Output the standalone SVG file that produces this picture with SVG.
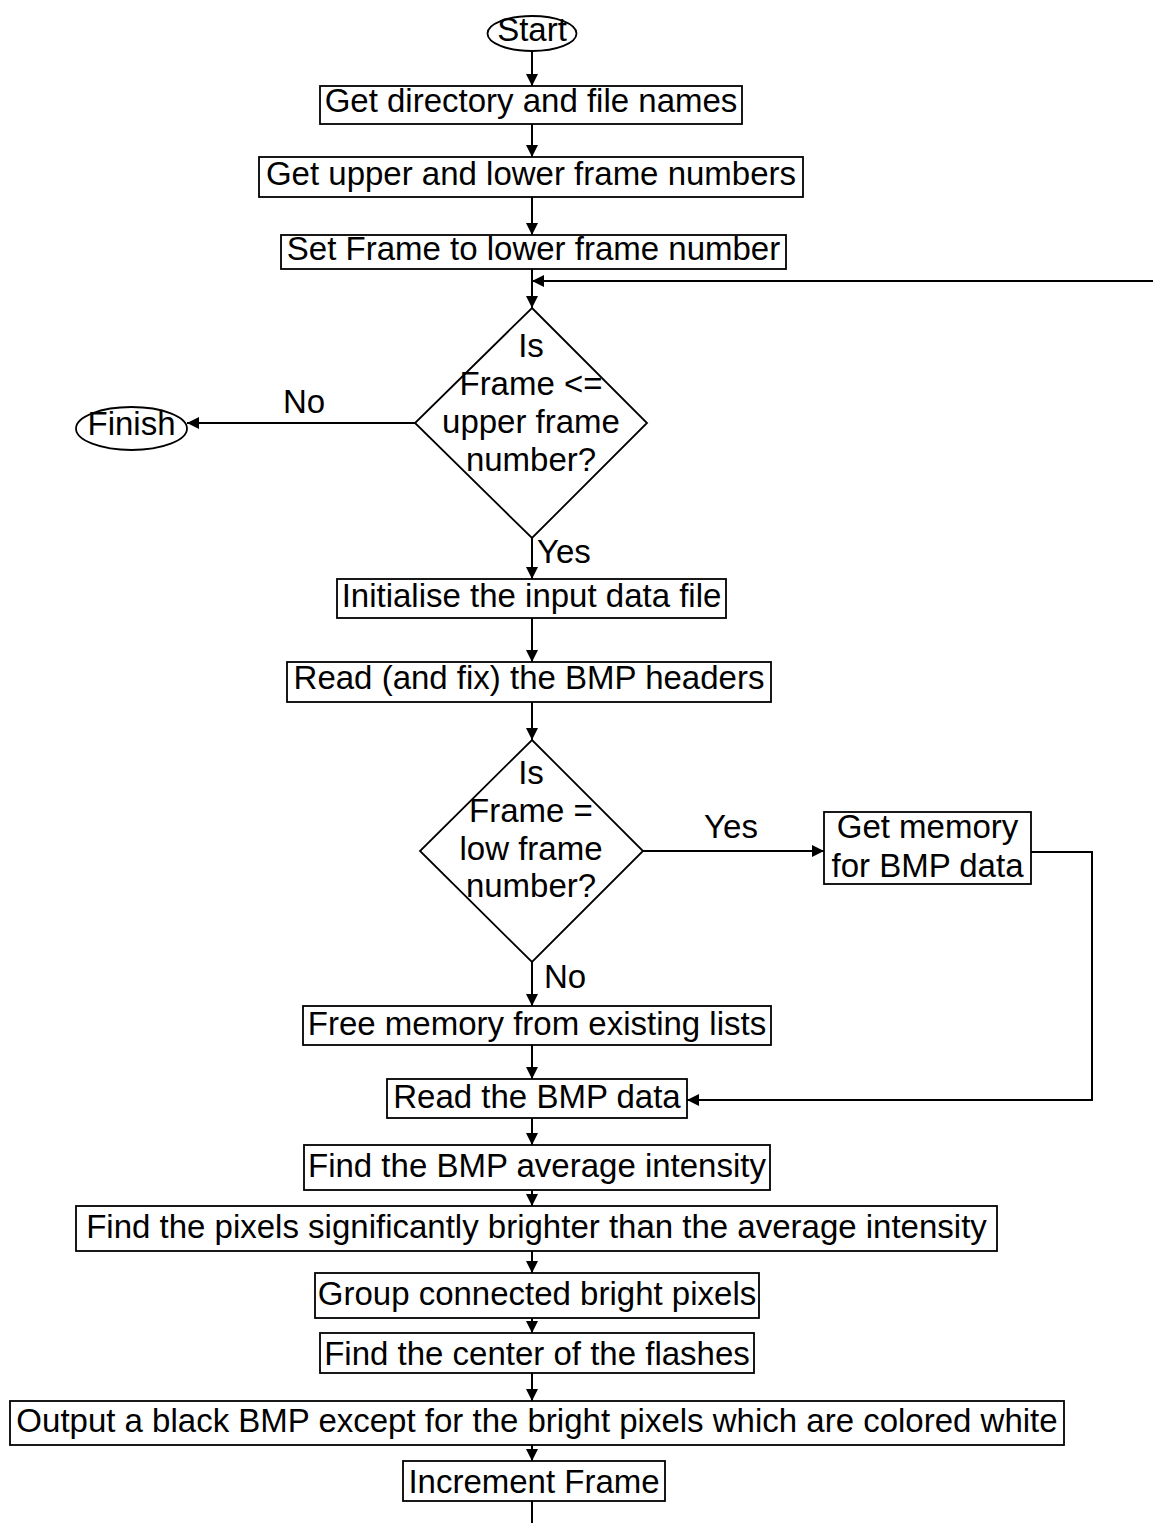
<svg xmlns="http://www.w3.org/2000/svg" width="1153" height="1523" viewBox="0 0 1153 1523">
  <style>
    .shape { fill: #ffffff; stroke: #000000; stroke-width: 1.8; }
    .label { font-family: "Liberation Sans", Arial, sans-serif; font-size: 33px; fill: #000000; text-anchor: middle; }
    .start { text-anchor: start; }
    .wire { fill: none; stroke: #000000; stroke-width: 2; }
  </style>
  <defs>
    <marker id="arrow" markerUnits="userSpaceOnUse" markerWidth="12" markerHeight="12" viewBox="0 0 12 12" refX="12" refY="6" orient="auto">
      <path d="M0,0 L12,6 L0,12 Z" fill="#000000"/>
    </marker>
  </defs>
  <rect width="1153" height="1523" fill="#ffffff"/>

  <!-- connectors -->
  <g id="connectors">
    <path class="wire" d="M532,51 V86" marker-end="url(#arrow)"/>
    <path class="wire" d="M532,124 V157" marker-end="url(#arrow)"/>
    <path class="wire" d="M532,197 V235" marker-end="url(#arrow)"/>
    <path class="wire" d="M532,269 V308" marker-end="url(#arrow)"/>
    <path class="wire" d="M1153,281 H532" marker-end="url(#arrow)"/>
    <path class="wire" d="M415,423 H187" marker-end="url(#arrow)"/>
    <path class="wire" d="M532,538 V579" marker-end="url(#arrow)"/>
    <path class="wire" d="M532,618 V662" marker-end="url(#arrow)"/>
    <path class="wire" d="M532,702 V740" marker-end="url(#arrow)"/>
    <path class="wire" d="M643,851 H824" marker-end="url(#arrow)"/>
    <path class="wire" d="M1031,852 H1092 V1100 H687" marker-end="url(#arrow)"/>
    <path class="wire" d="M532,962 V1006" marker-end="url(#arrow)"/>
    <path class="wire" d="M532,1045 V1079" marker-end="url(#arrow)"/>
    <path class="wire" d="M532,1118 V1145" marker-end="url(#arrow)"/>
    <path class="wire" d="M532,1190 V1206" marker-end="url(#arrow)"/>
    <path class="wire" d="M532,1251 V1273" marker-end="url(#arrow)"/>
    <path class="wire" d="M532,1318 V1333" marker-end="url(#arrow)"/>
    <path class="wire" d="M532,1373 V1401" marker-end="url(#arrow)"/>
    <path class="wire" d="M532,1445 V1461" marker-end="url(#arrow)"/>
    <path class="wire" d="M532,1501 V1523"/>
    <text class="label" x="304" y="413">No</text>
    <text class="label start" x="537" y="563">Yes</text>
    <text class="label" x="731" y="838">Yes</text>
    <text class="label start" x="544" y="988">No</text>
  </g>

  <g id="start">
    <ellipse class="shape" cx="532" cy="33.5" rx="44.5" ry="17.5"/>
    <text class="label" x="532" y="41">Start</text>
  </g>

  <g id="get-names">
    <rect class="shape" x="320" y="86" width="422" height="38"/>
    <text class="label" x="531" y="112">Get directory and file names</text>
  </g>

  <g id="get-frame-range">
    <rect class="shape" x="259" y="157" width="544" height="40"/>
    <text class="label" x="531" y="185">Get upper and lower frame numbers</text>
  </g>

  <g id="set-frame">
    <rect class="shape" x="281" y="235" width="505" height="34"/>
    <text class="label" x="533.5" y="260">Set Frame to lower frame number</text>
  </g>

  <g id="check-upper">
    <polygon class="shape" points="532,308 647,423 532,538 415,423"/>
    <text class="label" x="531" y="357">Is</text>
    <text class="label" x="531" y="395">Frame &lt;=</text>
    <text class="label" x="531" y="433">upper frame</text>
    <text class="label" x="531" y="471">number?</text>
  </g>

  <g id="finish">
    <ellipse class="shape" cx="131.5" cy="428.5" rx="55.5" ry="21.5"/>
    <text class="label" x="131.5" y="435">Finish</text>
  </g>

  <g id="init-input">
    <rect class="shape" x="337" y="579" width="389" height="39"/>
    <text class="label" x="531.5" y="607">Initialise the input data file</text>
  </g>

  <g id="read-headers">
    <rect class="shape" x="287" y="662" width="484" height="40"/>
    <text class="label" x="529" y="689">Read (and fix) the BMP headers</text>
  </g>

  <g id="check-low">
    <polygon class="shape" points="532,740 643,851 532,962 420,851"/>
    <text class="label" x="531" y="784">Is</text>
    <text class="label" x="531" y="822">Frame =</text>
    <text class="label" x="531" y="860">low frame</text>
    <text class="label" x="531" y="897">number?</text>
  </g>

  <g id="get-memory">
    <rect class="shape" x="824" y="812" width="207" height="72"/>
    <text class="label" x="927.5" y="838">Get memory</text>
    <text class="label" x="927.5" y="877">for BMP data</text>
  </g>

  <g id="free-memory">
    <rect class="shape" x="303" y="1006" width="468" height="39"/>
    <text class="label" x="537" y="1035">Free memory from existing lists</text>
  </g>

  <g id="read-data">
    <rect class="shape" x="387" y="1079" width="300" height="39"/>
    <text class="label" x="537" y="1108">Read the BMP data</text>
  </g>

  <g id="average">
    <rect class="shape" x="304" y="1145" width="466" height="45"/>
    <text class="label" x="537" y="1177">Find the BMP average intensity</text>
  </g>

  <g id="bright-pixels">
    <rect class="shape" x="76" y="1206" width="921" height="45"/>
    <text class="label" x="536.5" y="1238">Find the pixels significantly brighter than the average intensity</text>
  </g>

  <g id="group-pixels">
    <rect class="shape" x="315" y="1273" width="444" height="45"/>
    <text class="label" x="537" y="1305">Group connected bright pixels</text>
  </g>

  <g id="flash-centers">
    <rect class="shape" x="320" y="1333" width="434" height="40"/>
    <text class="label" x="537" y="1365">Find the center of the flashes</text>
  </g>

  <g id="output-bmp">
    <rect class="shape" x="10" y="1401" width="1054" height="44"/>
    <text class="label" x="537" y="1432">Output a black BMP except for the bright pixels which are colored white</text>
  </g>

  <g id="increment">
    <rect class="shape" x="403" y="1461" width="262" height="40"/>
    <text class="label" x="534" y="1493">Increment Frame</text>
  </g>
</svg>
